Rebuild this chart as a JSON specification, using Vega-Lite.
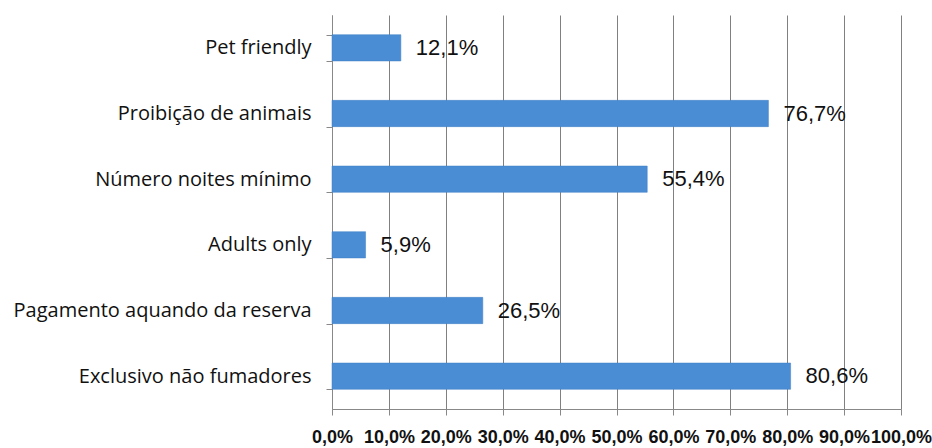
{
  "$schema": "https://vega.github.io/schema/vega-lite/v6.json",
  "width": 569,
  "height": 394,
  "autosize": "none",
  "padding": {"left": 332, "top": 15, "right": 31, "bottom": 39},
  "background": "white",
  "config": {"view": {"stroke": null}},
  "data": {"values": [
    {"cat": "Pet friendly", "v": 12.1, "label": "12,1%"},
    {"cat": "Proibição de animais", "v": 76.7, "label": "76,7%"},
    {"cat": "Número noites mínimo", "v": 55.4, "label": "55,4%"},
    {"cat": "Adults only", "v": 5.9, "label": "5,9%"},
    {"cat": "Pagamento aquando da reserva", "v": 26.5, "label": "26,5%"},
    {"cat": "Exclusivo não fumadores", "v": 80.6, "label": "80,6%"}
  ]},
  "encoding": {
    "y": {"field": "cat", "type": "nominal", "sort": null,
      "scale": {"paddingInner": 0.6, "paddingOuter": 0.3},
      "axis": {"title": null, "tickBand": "extent", "domainColor": "#888", "tickColor": "#888", "tickSize": 6,
        "labelFont": "Open Sans", "labelFontSize": 20, "labelColor": "#111", "labelPadding": 15, "labelLimit": 400, "grid": false}}
  },
  "layer": [
    {"mark": {"type": "bar", "color": "#4A8DD5", "stroke": "#3F7EC4", "strokeWidth": 0.5},
     "encoding": {"x": {"field": "v", "type": "quantitative",
       "scale": {"domain": [0, 100]},
       "axis": {"title": null, "values": [0,10,20,30,40,50,60,70,80,90,100], "labelExpr": "replace(format(datum.value, '.1f'), '.', ',') + '%'",
         "grid": true, "gridColor": "#808080", "gridWidth": 1, "domainColor": "#888", "tickColor": "#888", "tickSize": 6,
         "labelFont": "Liberation Sans", "labelFontSize": 18, "labelFontWeight": "bold", "labelColor": "#111", "labelPadding": 13, "labelFlush": false, "labelOverlap": false}}}},
    {"mark": {"type": "text", "align": "left", "dx": 15, "font": "Liberation Sans", "fontSize": 22, "color": "#111"},
     "encoding": {"x": {"field": "v", "type": "quantitative"}, "text": {"field": "label"}}}
  ]
}
